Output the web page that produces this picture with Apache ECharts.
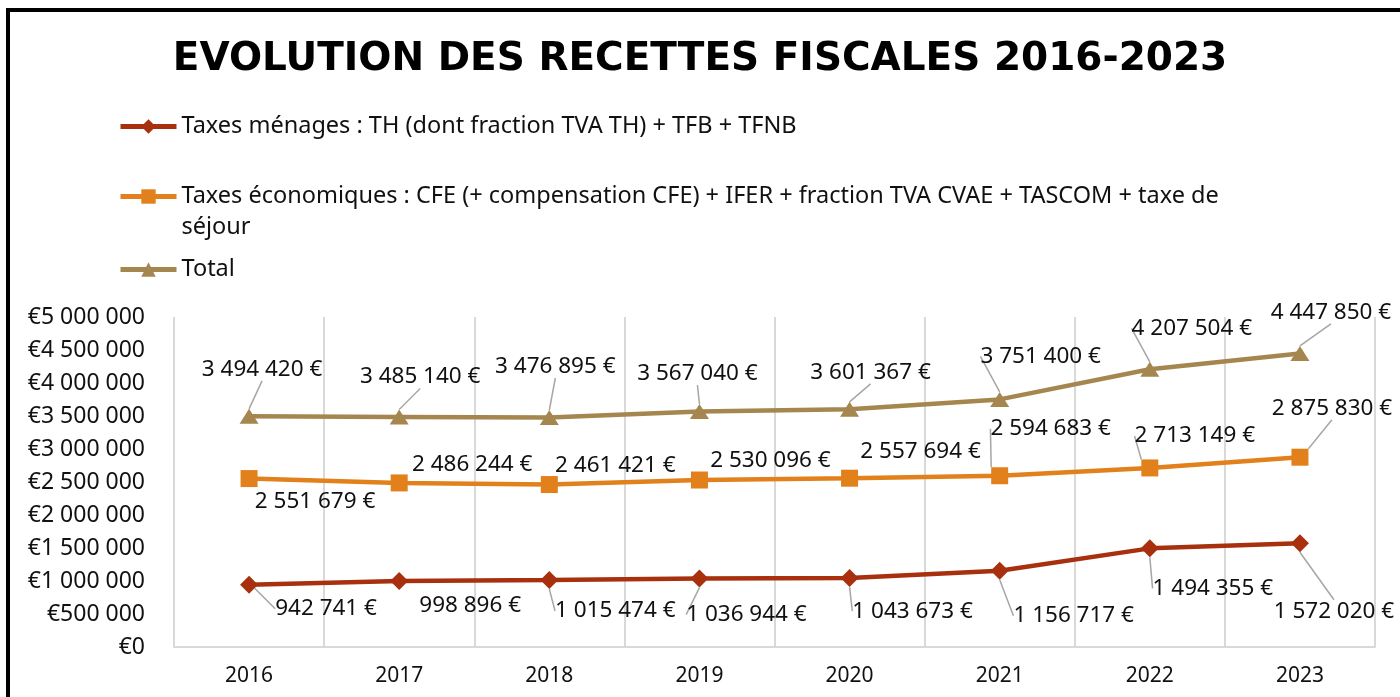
<!DOCTYPE html>
<html>
<head>
<meta charset="utf-8">
<script src="https://cdn.jsdelivr.net/npm/echarts@6/dist/echarts.min.js"></script>
<style>
  html, body { margin: 0; padding: 0; background: #fff; }
  #chart { width: 1400px; height: 697px; }
</style>
</head>
<body>
<div id="chart"></div>
<script>
// donnees
const years = ['2016', '2017', '2018', '2019', '2020', '2021', '2022', '2023'];
const menages = [942741, 998896, 1015474, 1036944, 1043673, 1156717, 1494355, 1572020];
const economiques = [2551679, 2486244, 2461421, 2530096, 2557694, 2594683, 2713149, 2875830];
const total = [3494420, 3485140, 3476895, 3567040, 3601367, 3751400, 4207504, 4447850];

const nameMenages = 'Taxes ménages : TH (dont fraction TVA TH) + TFB + TFNB';
const nameEco = 'Taxes économiques : CFE (+ compensation CFE) + IFER + fraction TVA CVAE + TASCOM + taxe de séjour';
const nameTotal = 'Total';

// decalage des etiquettes (px) par rapport au point
const shiftMenages = [[77, 24], [71, 25], [66, 31], [47, 36], [63, 33], [74, 45], [63, 40], [34, 68]];
const shiftEco = [[66, 23], [73, -18], [66, -19], [71, -19], [71, -27], [51, -47], [45, -32], [32, -49]];
const shiftTotal = [[13, -47], [21, -40], [6, -51], [-2, -38], [21, -37], [41, -43], [42, -41], [31, -41]];
const shifts = [shiftMenages, shiftEco, shiftTotal];
// traits de rappel visibles
const lineMenages = [1, 0, 1, 1, 1, 1, 1, 1];
const lineEco = [0, 0, 0, 0, 0, 1, 1, 1];
const lineTotal = [1, 1, 1, 1, 1, 1, 1, 1];

const font = 'Noto Sans';
const fmt = v => String(v).replace(/\B(?=(\d{3})+(?!\d))/g, ' ');

const baseLabel = {
  show: true,
  position: 'inside',
  color: '#111',
  fontFamily: font,
  fontSize: 22.5,
  formatter: p => fmt(p.value) + ' €'
};
const lineStyleGuide = { color: '#a6a6a6', width: 1.5 };
const layoutFn = p => {
  const s = shifts[p.seriesIndex][p.dataIndex];
  return { dx: s[0], dy: s[1], hideOverlap: false };
};
const toItems = (vals, flags) => vals.map((v, i) => ({
  value: v,
  labelLine: { show: !!flags[i], lineStyle: lineStyleGuide }
}));

const legendText = { color: '#111', fontFamily: font, fontSize: 23.5, lineHeight: 31 };
const legendBase = {
  left: 113, itemWidth: 56, itemHeight: 18, itemGap: 4,
  lineStyle: { width: 5 }
};

const option = {
  animation: false,
  backgroundColor: '#fff',
  title: {
    text: 'EVOLUTION DES RECETTES FISCALES 2016-2023',
    left: 'center',
    top: 35,
    textStyle: { fontFamily: 'DejaVu Sans', fontWeight: 'bold', fontSize: 39, color: '#000' }
  },
  graphic: [{
    type: 'rect',
    shape: { x: 8, y: 10, width: 1420, height: 720 },
    style: { fill: 'none', stroke: '#000', lineWidth: 4 },
    silent: true
  }],
  legend: [
    Object.assign({}, legendBase, {
      data: [nameMenages], top: 106,
      textStyle: legendText
    }),
    Object.assign({}, legendBase, {
      data: [nameEco], top: 145,
      formatter: n => '\n' + n.replace(' séjour', '\nséjour'),
      textStyle: legendText
    }),
    Object.assign({}, legendBase, {
      data: [nameTotal], top: 249,
      textStyle: legendText
    })
  ],
  grid: { left: 174, right: 25, top: 317, bottom: 50 },
  xAxis: {
    type: 'category',
    data: years,
    boundaryGap: true,
    axisLine: { lineStyle: { color: '#d9d9d9', width: 2 } },
    axisTick: { show: false },
    splitLine: { show: true, lineStyle: { color: '#d9d9d9', width: 2 } },
    axisLabel: { color: '#111', fontFamily: font, fontSize: 21, margin: 19 }
  },
  yAxis: {
    type: 'value',
    min: 0,
    max: 5000000,
    interval: 500000,
    axisLine: { show: false },
    axisTick: { show: false },
    splitLine: { show: false },
    axisLabel: {
      color: '#111', fontFamily: font, fontSize: 23, margin: 29,
      formatter: v => '€' + fmt(v)
    }
  },
  series: [
    {
      name: nameMenages, type: 'line', data: toItems(menages, lineMenages),
      color: '#A8300E',
      lineStyle: { width: 4.5 },
      symbol: 'diamond', symbolSize: 18,
      label: baseLabel, labelLayout: layoutFn
    },
    {
      name: nameEco, type: 'line', data: toItems(economiques, lineEco),
      color: '#E2801B',
      lineStyle: { width: 4.5 },
      symbol: 'rect', symbolSize: 17,
      label: baseLabel, labelLayout: layoutFn
    },
    {
      name: nameTotal, type: 'line', data: toItems(total, lineTotal),
      color: '#A5864F',
      lineStyle: { width: 4.5 },
      symbol: 'triangle', symbolSize: [19, 15],
      label: baseLabel, labelLayout: layoutFn
    }
  ]
};

const chart = echarts.init(document.getElementById('chart'));
chart.setOption(option);
</script>
</body>
</html>
